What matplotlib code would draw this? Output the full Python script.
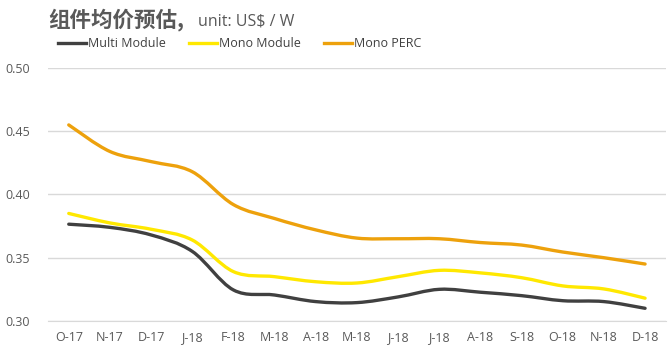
import numpy as np
import matplotlib.pyplot as plt
from matplotlib.path import Path
from matplotlib.patches import PathPatch
from matplotlib.lines import Line2D

plt.rcParams['font.family'] = ['Open Sans', 'Noto Sans CJK SC', 'DejaVu Sans']

months = ['O-17', 'N-17', 'D-17', 'J-18', 'F-18', 'M-18', 'A-18', 'M-18',
          'J-18', 'J-18', 'A-18', 'S-18', 'O-18', 'N-18', 'D-18']
multi_module = [0.3765, 0.374, 0.368, 0.355, 0.3245, 0.3205, 0.3153, 0.3145,
                0.319, 0.325, 0.3227, 0.320, 0.316, 0.3153, 0.310]
mono_module = [0.385, 0.3775, 0.3725, 0.364, 0.339, 0.335, 0.331, 0.330,
               0.335, 0.340, 0.338, 0.3342, 0.3277, 0.3253, 0.318]
mono_perc = [0.455, 0.434, 0.426, 0.418, 0.392, 0.381, 0.372, 0.3655,
             0.365, 0.365, 0.362, 0.360, 0.3545, 0.350, 0.345]

series = [
    ('Multi Module', multi_module, '#404040'),
    ('Mono Module', mono_module, '#FFE800'),
    ('Mono PERC', mono_perc, '#EDA10C'),
]


def smooth_path(xs, ys):
    # Excel-style smoothed line: cubic bezier segments through each point
    pts = np.column_stack([xs, ys]).astype(float)
    n = len(pts)
    verts = [pts[0]]
    codes = [Path.MOVETO]
    for i in range(n - 1):
        p0 = pts[i - 1] if i > 0 else pts[i]
        p1 = pts[i]
        p2 = pts[i + 1]
        p3 = pts[i + 2] if i + 2 < n else pts[i + 1]
        c1 = p1 + (p2 - p0) / 6.0
        c2 = p2 - (p3 - p1) / 6.0
        verts += [c1, c2, p2]
        codes += [Path.CURVE4] * 3
    return Path(verts, codes)


fig = plt.figure(figsize=(6.69, 3.57), dpi=100)
ax = fig.add_axes([0.072, 0.101, 0.923, 0.7085])

x = np.arange(len(months))
handles = []
for name, vals, color in series:
    patch = PathPatch(smooth_path(x, vals), fill=False, edgecolor=color,
                      linewidth=2.4, capstyle='round', joinstyle='round',
                      transform=ax.transData, zorder=3)
    ax.add_patch(patch)
    handles.append(Line2D([], [], color=color, linewidth=2.4, label=name))

yticks = [0.30, 0.35, 0.40, 0.45, 0.50]
ax.set_xlim(-0.5, 14.5)
ax.set_ylim(0.30, 0.50)
ax.set_yticks(yticks)
ax.set_yticklabels(['%.2f' % v for v in yticks])
ax.set_xticks(x)
ax.set_xticklabels(months)
ax.tick_params(axis='both', length=0, labelsize=9, colors='#595959')
ax.tick_params(axis='x', pad=7)
ax.tick_params(axis='y', pad=13)
ax.grid(axis='y', color='#D9D9D9', linewidth=1)
ax.set_axisbelow(True)
for side in ['top', 'right', 'left']:
    ax.spines[side].set_visible(False)
ax.spines['bottom'].set_color('#D9D9D9')

fig.text(0.072, 0.945, '组件均价预估,', fontsize=15.5, fontweight='bold',
         color='#595959', family=['Noto Sans CJK SC', 'DejaVu Sans'], va='center')
fig.text(0.296, 0.940, 'unit: US$ / W', fontsize=11.5, color='#595959', va='center')

leg = fig.legend(handles=handles, loc='center left', bbox_to_anchor=(0.087, 0.877),
                 ncol=3, frameon=False, fontsize=9, handlelength=2.2,
                 handletextpad=0.15, columnspacing=1.9, borderaxespad=0, borderpad=0)
for t in leg.get_texts():
    t.set_color('#404040')

fig.savefig('out.png', dpi=100)
